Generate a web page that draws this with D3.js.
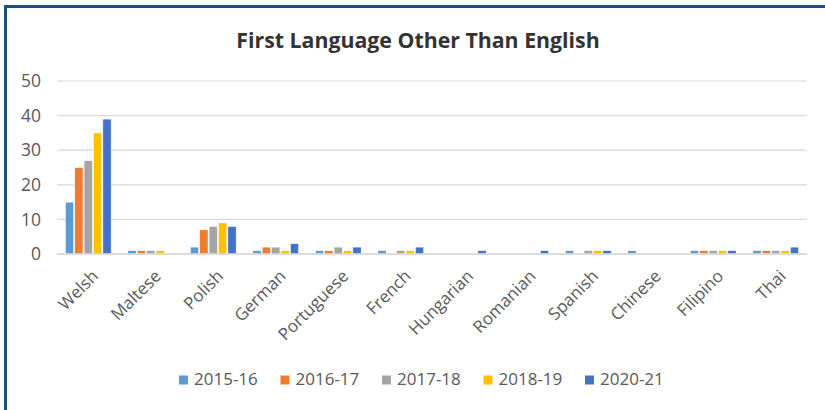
<!DOCTYPE html>
<html>
<head>
<meta charset="utf-8">
<script src="https://cdn.jsdelivr.net/npm/d3@7"></script>
<style>
  html, body { margin: 0; padding: 0; background: #fff; }
  svg { display: block; }
</style>
</head>
<body>
<svg id="chart" width="825" height="410"></svg>
<script>
const categories = ["Welsh", "Maltese", "Polish", "German", "Portuguese", "French", "Hungarian", "Romanian", "Spanish", "Chinese", "Filipino", "Thai"];
const seriesNames = ["2015-16", "2016-17", "2017-18", "2018-19", "2020-21"];
const s2015_16 = [15, 1, 2, 1, 1, 1, 0, 0, 1, 1, 1, 1];
const s2016_17 = [25, 1, 7, 2, 1, 0, 0, 0, 0, 0, 1, 1];
const s2017_18 = [27, 1, 8, 2, 2, 1, 0, 0, 1, 0, 1, 1];
const s2018_19 = [35, 1, 9, 1, 1, 1, 0, 0, 1, 0, 1, 1];
const s2020_21 = [39, 0, 8, 3, 2, 2, 1, 1, 1, 0, 1, 2];
const yTicks = [0, 10, 20, 30, 40, 50];
const colors = ["#5B9BD5", "#ED7D31", "#A5A5A5", "#FFC000", "#4472C4"];

const seriesValues = [s2015_16, s2016_17, s2017_18, s2018_19, s2020_21];
const svg = d3.select("#chart");
const font = "'Open Sans', sans-serif";

// frame
svg.append("rect").attr("x", 4).attr("y", 5).attr("width", 821).attr("height", 3).attr("fill", "#1F4E79");
svg.append("rect").attr("x", 4).attr("y", 5).attr("width", 3).attr("height", 405).attr("fill", "#1F4E79");

// title
svg.append("text").attr("x", 418).attr("y", 48).attr("text-anchor", "middle")
  .attr("font-family", font).attr("font-weight", "bold").attr("font-size", 21.3)
  .attr("fill", "#333333").text("First Language Other Than English");

const plotL = 57, plotR = 807, plotT = 81, plotB = 254;
const x0 = d3.scaleBand().domain(categories).range([plotL, plotR]).paddingInner(0.25).paddingOuter(0.125);
const x1 = d3.scaleBand().domain(seriesNames).range([0, x0.bandwidth()]);
const y = d3.scaleLinear().domain([0, 50]).range([plotB, plotT]);

// gridlines
svg.append("g").selectAll("line").data(yTicks).join("line")
  .attr("x1", plotL).attr("x2", plotR)
  .attr("y1", d => y(d)).attr("y2", d => y(d))
  .attr("stroke", "#D9D9D9").attr("stroke-width", d => d === 0 ? 1.5 : 1.2);

// y axis labels
const yAxis = d3.axisLeft(y).tickValues(yTicks).tickSize(0).tickPadding(0);
const gy = svg.append("g").attr("transform", `translate(${plotL - 16},0)`).call(yAxis);
gy.select(".domain").remove();
gy.selectAll("text").attr("font-family", font).attr("font-size", 17.5).attr("fill", "#595959");

// bars
const groups = svg.append("g").selectAll("g").data(categories).join("g")
  .attr("transform", d => `translate(${x0(d)},0)`);
groups.selectAll("rect").data((d, i) => seriesNames.map((s, j) => ({ s, j, v: seriesValues[j][i] })).filter(o => o.v > 0))
  .join("rect")
  .attr("x", o => x1(o.s) + 0.5)
  .attr("width", x1.bandwidth() - 1)
  .attr("y", o => y(o.v))
  .attr("height", o => y(0) - y(o.v))
  .attr("fill", o => colors[o.j])
  .attr("stroke", "#ffffff").attr("stroke-width", 0.6);

// baseline on top
svg.append("line").attr("x1", plotL).attr("x2", plotR).attr("y1", y(0)).attr("y2", y(0))
  .attr("stroke", "#D9D9D9").attr("stroke-width", 1.5);

// x axis labels
const xAxis = d3.axisBottom(x0).tickSize(0).tickPadding(0);
const gx = svg.append("g").attr("transform", `translate(0,${plotB})`).call(xAxis);
gx.select(".domain").remove();
gx.selectAll("text")
  .attr("font-family", font).attr("font-size", 17).attr("fill", "#595959")
  .attr("text-anchor", "end")
  .attr("dy", null).attr("y", 0)
  .attr("transform", "translate(8,20) rotate(-45)")
  .attr("dominant-baseline", "middle");

// legend
const legend = svg.append("g").attr("transform", "translate(179,380)");
const item = legend.selectAll("g").data(seriesNames).join("g")
  .attr("transform", (d, i) => `translate(${i * 101.5},0)`);
item.append("rect").attr("x", 0).attr("y", -4.5).attr("width", 9).attr("height", 9).attr("fill", (d, i) => colors[i]);
item.append("text").attr("x", 15).attr("y", 0).attr("dominant-baseline", "middle")
  .attr("font-family", font).attr("font-size", 17).attr("fill", "#595959").text(d => d);
</script>
</body>
</html>
